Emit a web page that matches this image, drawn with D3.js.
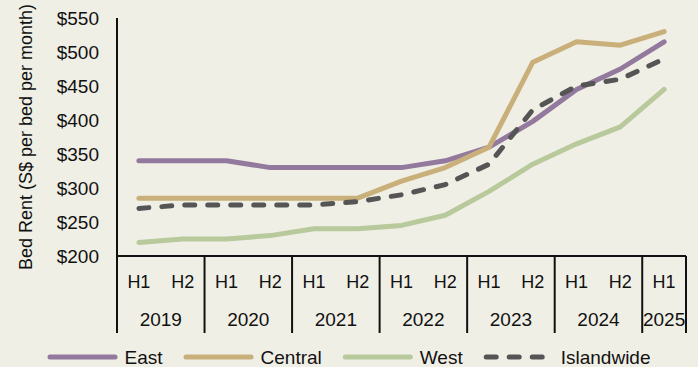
<!DOCTYPE html>
<html>
<head>
<meta charset="utf-8">
<script src="https://cdn.jsdelivr.net/npm/d3@7"></script>
<style>
  html, body { margin: 0; padding: 0; background: #f0efe6; }
  svg { display: block; font-family: "Liberation Sans", Arial, sans-serif; }
</style>
</head>
<body>
<svg width="698" height="367"></svg>
<script>
// half-year periods on the x axis
const categories = ["2019 H1", "2019 H2", "2020 H1", "2020 H2", "2021 H1", "2021 H2",
  "2022 H1", "2022 H2", "2023 H1", "2023 H2", "2024 H1", "2024 H2", "2025 H1"];

const east       = [340, 340, 340, 330, 330, 330, 330, 340, 360, 398, 445, 475, 515];
const central    = [285, 285, 285, 285, 285, 285, 310, 330, 360, 485, 515, 510, 530];
const west       = [220, 225, 225, 230, 240, 240, 245, 260, 295, 335, 365, 390, 445];
const islandwide = [270, 275, 275, 275, 275, 280, 290, 305, 335, 415, 450, 460, 490];

const yTicks = [200, 250, 300, 350, 400, 450, 500, 550];

const series = [
  { name: "East", values: east, color: "#93799e", dash: null },
  { name: "Central", values: central, color: "#c9b07a", dash: null },
  { name: "West", values: west, color: "#b8c99b", dash: null },
  { name: "Islandwide", values: islandwide, color: "#555555", dash: "10,13" }
];

const svg = d3.select("svg");
const width = +svg.attr("width");
const plotLeft = 117, plotRight = 686, plotTop = 18, plotBottom = 256, axisLow = 333;
const fs = 19;

const x = d3.scaleBand().domain(categories).range([plotLeft, plotRight]).padding(0);
const y = d3.scaleLinear().domain([200, 550]).range([plotBottom, plotTop]);
const cx = c => x(c) + x.bandwidth() / 2;

// y axis
const yAxis = svg.append("g").attr("transform", `translate(${plotLeft},0)`)
  .call(d3.axisLeft(y).tickValues(yTicks).tickFormat(d => "$" + d).tickSize(0).tickPadding(18));
yAxis.select(".domain").remove();
yAxis.selectAll("text").attr("font-size", fs).attr("fill", "#111")
  .attr("font-family", "Liberation Sans, Arial, sans-serif");

svg.append("text")
  .attr("transform", `translate(32,${(plotTop + plotBottom) / 2}) rotate(-90)`)
  .attr("text-anchor", "middle")
  .attr("font-size", 18)
  .attr("fill", "#111")
  .text("Bed Rent (S$ per bed per month)");

// lines
const line = d3.line().x((d, i) => cx(categories[i])).y(d => y(d));
series.forEach(s => {
  svg.append("path")
    .datum(s.values)
    .attr("d", line)
    .attr("fill", "none")
    .attr("stroke", s.color)
    .attr("stroke-width", 5)
    .attr("stroke-linejoin", "round")
    .attr("stroke-linecap", "round")
    .attr("stroke-dasharray", s.dash);
});

// axis frame
const axisG = svg.append("g").attr("stroke", "#111").attr("stroke-width", 2);
axisG.append("line").attr("x1", plotLeft).attr("x2", plotLeft).attr("y1", plotTop).attr("y2", axisLow);
axisG.append("line").attr("x1", plotLeft).attr("x2", plotRight).attr("y1", plotBottom).attr("y2", plotBottom);

// two-level x labels
const halves = categories.map(c => c.split(" ")[1]);
const years = Array.from(new Set(categories.map(c => c.split(" ")[0])));

svg.append("g").selectAll("text").data(categories).join("text")
  .attr("x", d => cx(d))
  .attr("y", 288)
  .attr("text-anchor", "middle")
  .attr("font-size", 18)
  .attr("fill", "#111")
  .text((d, i) => halves[i]);

years.forEach(yr => {
  const cats = categories.filter(c => c.startsWith(yr));
  const x0 = x(cats[0]);
  const x1 = x(cats[cats.length - 1]) + x.bandwidth();
  axisG.append("line").attr("x1", x1).attr("x2", x1).attr("y1", plotBottom).attr("y2", axisLow);
  svg.append("text")
    .attr("x", (x0 + x1) / 2)
    .attr("y", 326)
    .attr("text-anchor", "middle")
    .attr("font-size", fs)
    .attr("fill", "#111")
    .text(yr);
});

// legend
const legend = svg.append("g");
let lx = 0;
const lineLen = 70, gap = 7, spacing = 21, ly = 357;
series.forEach(s => {
  const item = legend.append("g").attr("transform", `translate(${lx},0)`);
  item.append("line")
    .attr("x1", 2.5).attr("x2", lineLen - 2.5).attr("y1", ly).attr("y2", ly)
    .attr("stroke", s.color).attr("stroke-width", 5)
    .attr("stroke-linecap", "round")
    .attr("stroke-dasharray", s.dash);
  const t = item.append("text")
    .attr("x", lineLen + gap).attr("y", ly).attr("dy", "0.36em")
    .attr("font-size", fs).attr("fill", "#111")
    .text(s.name);
  lx += lineLen + gap + t.node().getComputedTextLength() + spacing;
});
const legendW = lx - spacing;
legend.attr("transform", `translate(${(width - legendW) / 2},0)`);
</script>
</body>
</html>
